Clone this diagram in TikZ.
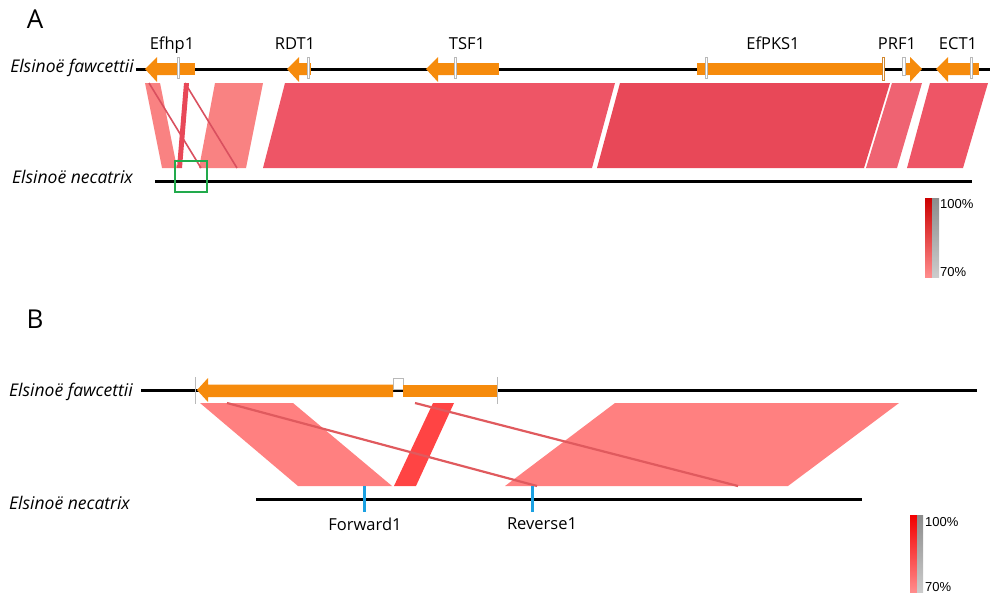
\documentclass[tikz,border=0pt]{standalone}
\usepackage{fontspec}
\setmainfont{Open Sans}
\newfontfamily\pctfont{Liberation Sans}
\definecolor{geneorange}{HTML}{F68B0C}
\definecolor{lightrib}{HTML}{F98282}
\definecolor{midrib}{HTML}{EE5566}
\definecolor{darkrib}{HTML}{E84858}
\definecolor{thinrib}{HTML}{D9505F}
\definecolor{brightrib}{HTML}{FF4444}
\definecolor{lightribB}{HTML}{FF8080}
\definecolor{blineB}{HTML}{E05A5E}
\definecolor{primerblue}{HTML}{1BA1E2}
\definecolor{framegreen}{HTML}{22AA4C}
\begin{document}
\begin{tikzpicture}[x=1pt,y=-1pt,
  gene/.style={fill=geneorange,draw=none},
  tickmark/.style={draw=gray!55,fill=white,line width=0.5pt},
  chrom/.style={line width=3pt,black},
  genelabel/.style={font=\fontsize{16.5}{19}\selectfont,anchor=base,inner sep=0pt},
  species/.style={font=\fontsize{17.5}{20}\selectfont\itshape,inner sep=0pt},
  panel/.style={font=\fontsize{26}{30}\selectfont,inner sep=0pt},
  pct/.style={font=\pctfont\fontsize{13}{15}\selectfont,anchor=west,inner sep=0pt},
  primer/.style={line width=3pt,draw=primerblue},
  primerlabel/.style={font=\fontsize{16.5}{19}\selectfont,inner sep=0pt}]
\useasboundingbox (0,0) rectangle (990,595);

% ================= Panel A =================
\node[panel] (labA) at (35,19) {A};
\node[species,anchor=east] (fawA) at (134,68) {Elsinoë fawcettii};
\node[species,anchor=west] (necA) at (12,177) {Elsinoë necatrix};

% ribbons A
\fill[lightrib] (145,83) -- (160,83) -- (177,168) -- (162,168) -- cycle;
\fill[lightrib] (215,83) -- (263,83) -- (246,168) -- (199,168) -- cycle;
\fill[midrib] (285,83) -- (615,83) -- (592,168) -- (263,168) -- cycle;
\fill[darkrib] (620,83) -- (890,83) -- (864,168) -- (597,168) -- cycle;
\fill[midrib!92!white] (892,83) -- (922,83) -- (897,168) -- (866,168) -- cycle;
\fill[midrib] (930,83) -- (988,83) -- (963,168) -- (907,168) -- cycle;
\draw[thinrib,line width=1.6pt] (149,83) -- (201,168);
\draw[thinrib,line width=1.6pt] (185,83) -- (237,168);
\fill[darkrib] (184,83) -- (189,83) -- (182,168) -- (177,168) -- cycle;

% chromosomes A
\coordinate (fawAs) at (136,69);
\coordinate (fawAe) at (990,69);
\draw[chrom] (fawAs) -- (fawAe);
\coordinate (necAs) at (155,181);
\coordinate (necAe) at (972,181);
\draw[chrom] (necAs) -- (necAe);

% genes A
% Efhp1
\fill[gene] (145,69) -- (157,57) -- (157,63) -- (177,63) -- (177,75) -- (157,75) -- (157,82) -- cycle;
\fill[gene] (180,63) rectangle (195,75);
\draw[tickmark] (177.5,57) rectangle (179.5,78);
\node[genelabel] (gEfhp) at (172,49) {Efhp1};
% RDT1
\fill[gene] (287,69) -- (299,57) -- (299,63) -- (307,63) -- (307,75) -- (299,75) -- (299,82) -- cycle;
\fill[gene] (309.5,63) rectangle (311,75);
\draw[tickmark] (307.5,57) rectangle (309.5,78);
\node[genelabel] (gRDT) at (295,49) {RDT1};
% TSF1
\fill[gene] (426,69) -- (438,57) -- (438,63) -- (454,63) -- (454,75) -- (438,75) -- (438,82) -- cycle;
\fill[gene] (456,63) rectangle (499,75);
\draw[tickmark] (454,57) rectangle (456,78);
\node[genelabel] (gTSF) at (467,49) {TSF1};
% EfPKS1
\fill[gene] (697,63) rectangle (705,75);
\fill[gene] (707,63) rectangle (882,75);
\draw[tickmark] (705,57) rectangle (707,78);
\draw[draw=geneorange!70!gray,fill=white,line width=0.5pt] (882,57) rectangle (884,80);
\node[genelabel] (gPKS) at (773,49) {EfPKS1};
% PRF1
\fill[gene] (905,63) -- (910,63) -- (910,57) -- (922,69) -- (910,82) -- (910,75) -- (905,75) -- cycle;
\draw[tickmark] (902,57) rectangle (905,75);
\node[genelabel] (gPRF) at (897,49) {PRF1};
% ECT1
\fill[gene] (936,69) -- (948,57) -- (948,63) -- (970,63) -- (970,75) -- (948,75) -- (948,82) -- cycle;
\fill[gene] (972,63) rectangle (979,75);
\draw[tickmark] (970,57) rectangle (972,78);
\node[genelabel] (gECT) at (958,49) {ECT1};

% green frame
\draw[framegreen,line width=1.5pt] (175,161) rectangle (207,192);

% legend A
\shade[top color=red!80!black,bottom color=red!45!white] (925,198) rectangle (932,277);
\shade[top color=gray!110!black,bottom color=gray!40] (932,198) rectangle (939,277);
\node[pct] (pA1) at (940,204) {100\%};
\node[pct] (pA2) at (940,272) {70\%};

% ================= Panel B =================
\node[panel] (labB) at (35,319) {B};
\node[species,anchor=west] (fawB) at (9,392) {Elsinoë fawcettii};
\node[species,anchor=west] (necB) at (9,503) {Elsinoë necatrix};

% ribbons B
\fill[lightribB] (200,403) -- (293,403) -- (392,486) -- (298,486) -- cycle;
\fill[brightrib] (433,403) -- (454,403) -- (416,486) -- (394,486) -- cycle;
\fill[lightribB] (615,403) -- (899,403) -- (788,486) -- (505,486) -- cycle;
\draw[blineB,line width=2.2pt] (227,403) -- (537,486);
\draw[blineB,line width=2.2pt] (415,403) -- (738,486);

% chromosomes B
\coordinate (fawBs) at (141,390);
\coordinate (fawBe) at (977,390);
\draw[chrom] (fawBs) -- (fawBe);
\coordinate (necBs) at (256,499);
\coordinate (necBe) at (862,499);
\draw[chrom] (necBs) -- (necBe);

% gene B
\draw[tickmark] (393,378) rectangle (403,389);
\fill[gene] (197,390) -- (208,378) -- (208,384.5) -- (393,384.5) -- (393,397) -- (208,397) -- (208,402) -- cycle;
\fill[gene] (403,384.5) rectangle (497,397);
\draw[gray!55,line width=0.6pt] (195,377) -- (195,404);
\draw[gray!55,line width=0.6pt] (497,377) -- (497,404);

% primers
\coordinate (fw) at (364,486);
\coordinate (fwe) at (364,512);
\coordinate (rv) at (532,486);
\coordinate (rve) at (532,512);
\draw[primer] (fw) -- (fwe);
\draw[primer] (rv) -- (rve);
\node[primerlabel] (fwl) at (365,524) {Forward1};
\node[primerlabel] (rvl) at (542,524) {Reverse1};

% legend B
\shade[top color=red!95!black,bottom color=red!45!white] (910,515) rectangle (917,592);
\shade[top color=gray!110!black,bottom color=gray!40] (917,515) rectangle (923,592);
\node[pct] (pB1) at (925,522) {100\%};
\node[pct] (pB2) at (925,587) {70\%};
\end{tikzpicture}
\end{document}
